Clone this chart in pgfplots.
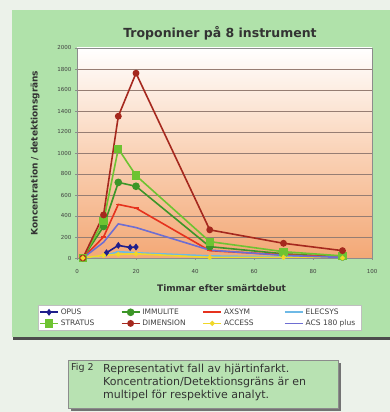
\documentclass[border=0pt]{standalone}
\usepackage{pgfplots}
\pgfplotsset{compat=1.18}
\usepackage{fontspec}
\setmainfont{DejaVu Sans}

\definecolor{pagebg}{RGB}{236,242,234}
\definecolor{panel}{RGB}{176,226,170}
\definecolor{capbox}{RGB}{184,226,178}
\definecolor{gridc}{RGB}{150,125,115}
\definecolor{plotbot}{RGB}{243,168,118}
\definecolor{copus}{RGB}{30,30,140}
\definecolor{cimmu}{RGB}{60,150,40}
\definecolor{caxsym}{RGB}{230,50,30}
\definecolor{celec}{RGB}{110,185,230}
\definecolor{cstrat}{RGB}{110,195,50}
\definecolor{cdim}{RGB}{165,40,30}
\definecolor{cacc}{RGB}{240,215,40}
\definecolor{cacs}{RGB}{110,110,210}

\begin{document}
\begin{tikzpicture}[x=1pt,y=1pt]
\useasboundingbox (0,0) rectangle (390,412);
\fill[pagebg] (0,0) rectangle (390,412);
\fill[black!70] (13,72) rectangle (390,76);
\fill[panel] (12,75) rectangle (390,402);
\node[font=\bfseries\fontsize{12.5}{14}\selectfont, text=black!80] at (220,379) {Troponiner på 8 instrument};

\fill[black!55] (71,1) rectangle (341,49);
\fill[capbox] (68,4) rectangle (338,52);
\draw[black!45, line width=0.5pt] (68,4) rectangle (338,52);
\node[anchor=north west, font=\fontsize{9.5}{13}\selectfont, text=black!80, inner sep=0pt] at (71,48.5) {Fig 2};
\node[anchor=north west, align=left, font=\fontsize{11}{13}\selectfont, text=black!80, inner sep=0pt] at (103,48.5) {Representativt fall av hjärtinfarkt.\\Koncentration/Detektionsgräns är en\\multipel för respektive analyt.};

\begin{axis}[
  at={(77pt,154pt)}, anchor=south west,
  scale only axis, width=295pt, height=210pt,
  xmin=0, xmax=100, ymin=0, ymax=2000,
  xtick={0,20,...,100}, ytick={0,200,...,2000},
  ymajorgrids, grid style={gridc, line width=0.6pt},
  axis line style={black!45},
  tick style={black!45, major tick length=2pt},
  tick align=outside,
  xtick pos=bottom, ytick pos=left,
  /pgf/number format/assume math mode=true,
  /pgf/number format/1000 sep={},
  ticklabel style={font=\fontsize{5.5}{6}\selectfont, text=black!75},
  xticklabel style={yshift=-6pt},
  axis background/.style={shade, top color=white, bottom color=plotbot, middle color={rgb,255:red,250;green,210;blue,182}},
  xlabel={Timmar efter smärtdebut},
  ylabel={Koncentration / detektionsgräns},
  label style={font=\bfseries\fontsize{9}{10}\selectfont, text=black!80},
  xlabel style={at={(axis description cs:0.49,-0.143)}, anchor=center},
  ylabel style={at={(axis description cs:-0.142,0.5)}, anchor=center},
  legend style={at={(axis description cs:0.415,-0.224)}, anchor=north,
    legend columns=4, font=\fontsize{7.5}{8.5}\selectfont, fill=white, draw=black!25,
    inner sep=1.5pt, row sep=0pt, text=black!75,
    /tikz/every even column/.append style={column sep=1pt}},
  legend cell align=left,
  legend image code/.code={\draw[mark repeat=2,mark phase=2] plot coordinates {(0pt,0pt)(9pt,0pt)(18pt,0pt)};},
  lw/.style={line width=1.6pt},
]
\addplot[lw, copus, mark=diamond*, mark size=2.2pt] coordinates {(10,50) (14,120) (18,100) (20,105)};
\addlegendentry{\makebox[57pt][l]{OPUS}}
\addplot[lw, cimmu, mark=*, mark size=3pt] coordinates {(2,0) (9,300) (14,720) (20,683) (45,108) (70,40) (90,10)};
\addlegendentry{\makebox[57pt][l]{IMMULITE}}
\addplot[lw, caxsym, mark=-, mark size=2.5pt] coordinates {(2,0) (9,200) (14,510) (20,475) (45,70) (70,30) (90,10)};
\addlegendentry{\makebox[57pt][l]{AXSYM}}
\addplot[lw, celec, mark=-, mark size=2pt] coordinates {(2,0) (9,20) (14,60) (20,50) (45,20) (70,10) (90,5)};
\addlegendentry{\makebox[52pt][l]{ELECSYS}}
\addplot[lw, cstrat, mark=square*, mark size=3.3pt] coordinates {(2,0) (9,350) (14,1040) (20,785) (45,156) (70,60) (90,20)};
\addlegendentry{\makebox[57pt][l]{STRATUS}}
\addplot[lw, cdim, mark=*, mark size=2.6pt] coordinates {(2,0) (9,410) (14,1350) (20,1760) (45,268) (70,140) (90,70)};
\addlegendentry{\makebox[57pt][l]{DIMENSION}}
\addplot[lw, cacc, mark=*, mark size=1.6pt] coordinates {(2,0) (9,25) (14,35) (20,40) (45,5) (70,5) (90,0)};
\addlegendentry{\makebox[57pt][l]{ACCESS}}
\addplot[lw, cacs, no marks] coordinates {(2,0) (9,150) (14,325) (20,290) (45,75) (70,25) (90,5)};
\addlegendentry{\makebox[52pt][l]{ACS 180 plus}}
\end{axis}
\end{tikzpicture}
\end{document}
